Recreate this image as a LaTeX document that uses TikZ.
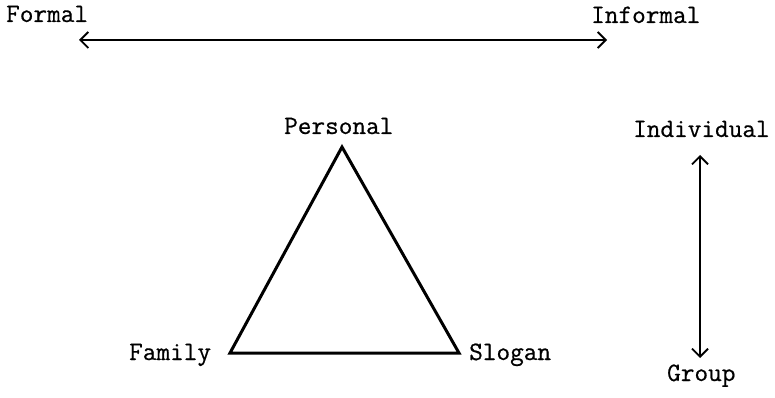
\documentclass[tikz,border=0pt]{standalone}
\usepackage{fontspec}
\setmonofont{Latin Modern Mono}[FakeBold=0.6]
\usetikzlibrary{arrows.meta}
\begin{document}
\begin{tikzpicture}[x=1pt,y=-1pt,
  lbl/.style={font=\ttfamily\fontsize{26.5}{29}\selectfont, inner sep=0pt, anchor=base west},
  axis/.style={line width=2pt, {Straight Barb[length=8pt,width=16pt,line width=1.8pt]}-{Straight Barb[length=8pt,width=16pt,line width=1.8pt]}},
  vaxis/.style={axis, line width=2.6pt},
  tri/.style={line width=3pt, line join=miter}]
\useasboundingbox (0,0) rectangle (775,398);
\node[lbl] (formal) at (6,22) {Formal};
\node[lbl] (informal) at (591,23) {Informal};
\coordinate (hl) at (79,40);
\coordinate (hr) at (607,40);
\draw[axis] (hl) -- (hr);
\node[lbl] (personal) at (284,134) {Personal};
\node[lbl] (family) at (129,360) {Family};
\node[lbl] (slogan) at (469,360) {Slogan};
\coordinate (pa) at (342,147);
\coordinate (pb) at (230,353);
\coordinate (pc) at (459,353);
\draw[tri] (pa) -- (pb) -- (pc) -- cycle;
\node[lbl] (individual) at (633,137) {Individual};
\node[lbl] (group) at (667,381) {Group};
\coordinate (vt) at (700,155);
\coordinate (vb) at (700,358);
\draw[vaxis] (vt) -- (vb);
\end{tikzpicture}
\end{document}
